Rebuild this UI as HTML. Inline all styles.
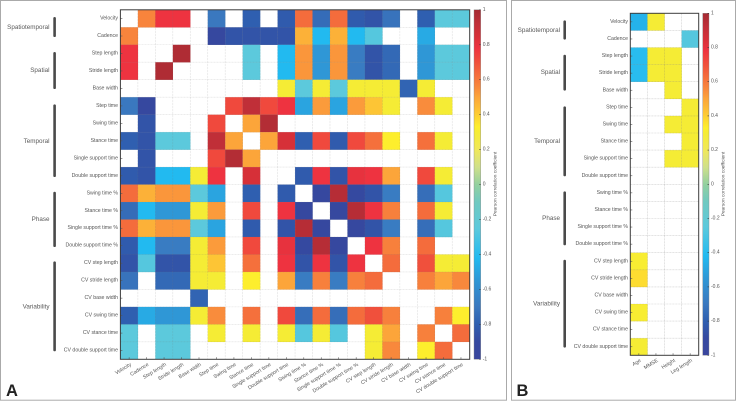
<!DOCTYPE html>
<html lang="en">
<head>
<meta charset="utf-8">
<title>Pearson correlation heatmaps</title>
<style>
html,body{margin:0;padding:0;background:#fff;}
svg{display:block;font-family:"Liberation Sans",sans-serif;}
.group-label{font-size:6.3px;fill:#5a5a5a;text-anchor:end;dominant-baseline:central;}
.panel-letter{font-size:16.5px;font-weight:bold;fill:#222;}
</style>
</head>
<body>
<svg id="figure" width="736" height="401" viewBox="0 0 736 401" xmlns="http://www.w3.org/2000/svg">
  <defs id="figure-defs"></defs>
  <rect x="0" y="0" width="736" height="401" fill="#fff"/>
  <rect x="0.5" y="0.5" width="506" height="399.7" fill="none" stroke="#aaa" stroke-width="1"/>
  <rect x="511.5" y="0.5" width="224" height="399.7" fill="none" stroke="#aaa" stroke-width="1"/>

  <g>
    <text class="group-label" x="49.5" y="27.3">Spatiotemporal</text>
    <text class="group-label" x="49.5" y="70.3">Spatial</text>
    <text class="group-label" x="49.5" y="141.3">Temporal</text>
    <text class="group-label" x="49.5" y="219.3">Phase</text>
    <text class="group-label" x="49.5" y="307">Variability</text>
    <line x1="54.6" x2="54.6" y1="18.3" y2="35.7" stroke="#4a4a4a" stroke-width="2.6" stroke-linecap="round"/>
    <line x1="54.6" x2="54.6" y1="53.3" y2="87.7" stroke="#4a4a4a" stroke-width="2.6" stroke-linecap="round"/>
    <line x1="54.6" x2="54.6" y1="105.7" y2="175.7" stroke="#4a4a4a" stroke-width="2.6" stroke-linecap="round"/>
    <line x1="54.6" x2="54.6" y1="193" y2="245.7" stroke="#4a4a4a" stroke-width="2.6" stroke-linecap="round"/>
    <line x1="54.6" x2="54.6" y1="262.7" y2="350" stroke="#4a4a4a" stroke-width="2.6" stroke-linecap="round"/>
  </g>
  <g>
    <text class="group-label" x="560" y="30.3">Spatiotemporal</text>
    <text class="group-label" x="560" y="72.7">Spatial</text>
    <text class="group-label" x="560" y="141.7">Temporal</text>
    <text class="group-label" x="560" y="218.3">Phase</text>
    <text class="group-label" x="560" y="304">Variability</text>
    <line x1="564.7" x2="564.7" y1="21.7" y2="38.3" stroke="#4a4a4a" stroke-width="2.6" stroke-linecap="round"/>
    <line x1="564.7" x2="564.7" y1="56" y2="89.3" stroke="#4a4a4a" stroke-width="2.6" stroke-linecap="round"/>
    <line x1="564.7" x2="564.7" y1="107.7" y2="175" stroke="#4a4a4a" stroke-width="2.6" stroke-linecap="round"/>
    <line x1="564.7" x2="564.7" y1="192.7" y2="244" stroke="#4a4a4a" stroke-width="2.6" stroke-linecap="round"/>
    <line x1="564.7" x2="564.7" y1="261" y2="346.3" stroke="#4a4a4a" stroke-width="2.6" stroke-linecap="round"/>
  </g>

  <text class="panel-letter" x="6" y="396">A</text>
  <text class="panel-letter" x="516.5" y="396">B</text>
</svg>

<script>
const n = null;
const rowLabels = ["Velocity","Cadence","Step length","Stride length","Base width","Step time","Swing time","Stance time","Single support time","Double support time","Swing time %","Stance time %","Single support time %","Double support time %","CV step length","CV stride length","CV base width","CV swing time","CV stance time","CV double support time"];
const columnLabelsA = rowLabels;
const columnLabelsB = ["Age","MMSE","Height","Leg length"];
const colorbarTicks = [1,0.8,0.6,0.4,0.2,0,-0.2,-0.4,-0.6,-0.8,-1];
const colorbarTitle = "Pearson correlation coefficient";

const correlationA = [
  [n,.57,.78,.78,n,-.7,n,-.8,n,-.82,.63,-.75,.63,-.82,-.85,-.72,n,-.8,-.25,-.25],
  [.57,n,n,n,n,-.92,-.85,-.85,-.85,-.85,.47,-.42,.47,-.42,-.27,n,n,-.48,n,n],
  [.78,n,n,.97,n,n,n,-.25,n,-.42,.53,-.55,.53,-.68,-.85,-.76,n,-.55,-.25,-.25],
  [.78,n,.97,n,n,n,n,-.25,n,-.42,.53,-.55,.53,-.68,-.85,-.76,n,-.55,-.25,-.25],
  [n,n,n,n,n,n,n,n,n,.3,-.25,.3,-.25,.3,.3,.3,-.78,.3,n,n],
  [-.7,-.92,n,n,n,n,.72,.92,.72,.78,-.5,.52,-.5,.52,.42,.3,n,.55,.3,n],
  [n,-.85,n,n,n,.72,n,.5,.96,n,n,n,n,n,n,n,n,n,n,n],
  [-.8,-.85,-.25,-.25,n,.92,.5,n,.5,.85,-.8,.72,-.82,.72,.62,.33,n,.62,.3,n],
  [n,-.85,n,n,n,.72,.96,.5,n,n,n,n,n,n,n,n,n,n,n,n],
  [-.82,-.85,-.42,-.42,.3,.78,n,.85,n,n,-.82,.78,-.85,.8,.78,.5,n,.72,.3,n],
  [.63,.47,.53,.53,-.25,-.5,n,-.8,n,-.82,n,-.92,.95,-.9,-.85,-.68,n,-.74,-.27,n],
  [-.75,-.42,-.55,-.55,.3,.52,n,.72,n,.78,-.92,n,-.92,.95,.78,.58,n,.63,.3,n],
  [.63,.47,.53,.53,-.25,-.5,n,-.82,n,-.85,.95,-.92,n,-.92,-.85,-.68,n,-.74,-.27,n],
  [-.82,-.42,-.68,-.68,.3,.52,n,.72,n,.8,-.9,.95,-.92,n,.78,.58,n,.63,n,n],
  [-.85,-.27,-.85,-.85,.3,.42,n,.62,n,.78,-.85,.78,-.85,.78,n,.63,n,.7,.3,.3],
  [-.72,n,-.76,-.76,.3,.3,n,.33,n,.5,-.68,.58,-.68,.58,.63,n,n,.58,.5,.56],
  [n,n,n,n,-.78,n,n,n,n,n,n,n,n,n,n,n,n,n,n,n],
  [-.8,-.48,-.55,-.55,.3,.55,n,.62,n,.72,-.74,.63,-.74,.63,.7,.58,n,n,.58,.33],
  [-.25,n,-.25,-.25,n,.3,n,.3,n,.3,-.27,.3,-.27,n,.3,.5,n,.58,n,.63],
  [-.25,n,-.25,-.25,n,n,n,n,n,n,n,n,n,n,.3,.56,n,.33,.63,n]
];

const correlationB = [
  [-.45,.3,n,n],
  [n,n,n,-.27],
  [-.4,.3,.3,n],
  [-.4,.3,.3,n],
  [n,n,.3,n],
  [n,n,n,.3],
  [n,n,.3,.3],
  [n,n,n,.3],
  [n,n,.3,.3],
  [n,n,n,n],
  [n,n,n,n],
  [n,n,n,n],
  [n,n,n,n],
  [n,n,n,n],
  [.31,n,n,n],
  [.37,n,n,n],
  [n,n,n,n],
  [.31,n,n,n],
  [n,n,n,n],
  [.3,n,n,n]
];

const colormapValues = [-1,-.9,-.8,-.7,-.55,-.42,-.25,-.1,0,.1,.2,.3,.33,.42,.5,.55,.62,.7,.78,.85,.92,1];
const colormapColors = ["#3a469d","#3549a0","#2f5fb0","#3a78bf","#2f97d6","#22baf0","#5cc9dc","#70c9c0","#93d09f","#cfe08a","#f0e85a","#f5ec35","#fdee2d","#fdc535","#fca53a","#f98c3c","#f5703c","#f0503c","#ee3340","#d63038","#c02f38","#a52a32"];

const SVGNS = "http://www.w3.org/2000/svg";
const figure = document.getElementById("figure");
const defs = document.getElementById("figure-defs");

function make(tag, attrs, parent) {
  const el = document.createElementNS(SVGNS, tag);
  for (const k in attrs) el.setAttribute(k, attrs[k]);
  parent.appendChild(el);
  return el;
}
function hexToRgb(h) {
  return [parseInt(h.slice(1,3),16), parseInt(h.slice(3,5),16), parseInt(h.slice(5,7),16)];
}
function colorFor(v) {
  const c = Math.max(-1, Math.min(1, v));
  for (let i = 0; i < colormapValues.length - 1; i++) {
    const a = colormapValues[i], b = colormapValues[i + 1];
    if (c <= b) {
      const t = (c - a) / (b - a);
      const p = hexToRgb(colormapColors[i]), q = hexToRgb(colormapColors[i + 1]);
      return "rgb(" + p.map((x, j) => Math.round(x + (q[j] - x) * t)).join(",") + ")";
    }
  }
  return colormapColors[colormapColors.length - 1];
}

const gradient = make("linearGradient", {id:"colorbar-gradient", x1:0, y1:1, x2:0, y2:0}, defs);
colormapValues.forEach((v, i) => {
  make("stop", {offset:((v + 1) / 2), "stop-color":colormapColors[i]}, gradient);
});

function drawHeatmap(cfg) {
  const rows = rowLabels.length;
  const cols = cfg.columns.length;
  const cw = (cfg.right - cfg.left) / cols;
  const ch = (cfg.bottom - cfg.top) / rows;
  const xOf = c => cfg.left + c * cw;
  const yOf = r => cfg.top + r * ch;

  const plot = make("g", {}, figure);
  
  

  cfg.values.forEach((row, r) => {
    row.forEach((v, c) => {
      if (v === null) return;
      const cell = make("rect", {x:xOf(c), y:yOf(r), width:cw + 0.2, height:ch + 0.2, fill:colorFor(v)}, plot);
      
      
    });
  });

  const grid = make("g", {stroke:"#777", "stroke-opacity":cfg.gridOpacity, "stroke-width":0.6, "stroke-dasharray":"2.2 0.8"}, plot);
  
  
  for (let c = 1; c < cols; c++) make("line", {x1:xOf(c), x2:xOf(c), y1:cfg.top, y2:cfg.bottom}, grid);
  for (let r = 1; r < rows; r++) make("line", {x1:cfg.left, x2:cfg.right, y1:yOf(r), y2:yOf(r)}, grid);

  const yAxis = make("g", {}, plot);
  
  
  rowLabels.forEach((label, r) => {
    const yc = yOf(r + 0.5);
    make("line", {x1:cfg.left, x2:cfg.left + 2, y1:yc, y2:yc, stroke:"#555", "stroke-width":0.6}, yAxis);
    const t = make("text", {x:cfg.labelRight, y:yc, "font-size":5.2, fill:"#555", "text-anchor":"end", "dominant-baseline":"central"}, yAxis);
    t.textContent = label;
    
    
  });

  const xAxis = make("g", {}, plot);
  
  
  cfg.columns.forEach((label, c) => {
    const xc = xOf(c + 0.5);
    make("line", {x1:xc, x2:xc, y1:cfg.bottom, y2:cfg.bottom - 2, stroke:"#555", "stroke-width":0.6}, xAxis);
    const ax = xc + 2.5, ay = cfg.bottom + 6;
    const t = make("text", {x:ax, y:ay, "font-size":5.2, fill:"#555", "text-anchor":"end", transform:"rotate(-31.5 " + ax + " " + ay + ")"}, xAxis);
    t.textContent = label;
    
    
  });

  const frame = make("rect", {x:cfg.left, y:cfg.top, width:cfg.right - cfg.left, height:cfg.bottom - cfg.top, fill:"none", stroke:"#3c3c3c", "stroke-width":1}, plot);
  
  

  const cb = make("g", {}, figure);
  
  
  make("rect", {x:cfg.cbLeft, y:cfg.top, width:cfg.cbWidth, height:cfg.bottom - cfg.top, fill:"url(#colorbar-gradient)", stroke:"#8a8a8a", "stroke-width":0.4}, cb);
  const cbY = v => cfg.bottom - (v + 1) / 2 * (cfg.bottom - cfg.top);
  colorbarTicks.forEach(v => {
    const y = cbY(v);
    make("line", {x1:cfg.cbLeft + cfg.cbWidth - 1.5, x2:cfg.cbLeft + cfg.cbWidth, y1:y, y2:y, stroke:"#333", "stroke-width":0.6}, cb);
    const t = make("text", {x:cfg.cbLeft + cfg.cbWidth + 2, y:y, "font-size":5, fill:"#555", "dominant-baseline":"central"}, cb);
    t.textContent = String(v);
    
    
  });
  const ty = 184;
  const title = make("text", {x:cfg.cbTitleX, y:ty, "font-size":4.8, fill:"#555", "text-anchor":"middle", "dominant-baseline":"central", transform:"rotate(-90 " + cfg.cbTitleX + " " + ty + ")"}, cb);
  title.textContent = colorbarTitle;
  
  
}

drawHeatmap({name:"panel-a", values:correlationA, columns:columnLabelsA, left:120.4, right:469.7, top:9.8, bottom:359.3, labelRight:118, gridOpacity:0.22, cbLeft:474, cbWidth:6.7, cbTitleX:495.8});
drawHeatmap({name:"panel-b", values:correlationB, columns:columnLabelsB, left:630.3, right:698.7, top:13.3, bottom:355.3, labelRight:628, gridOpacity:0.32, cbLeft:702.7, cbWidth:6.3, cbTitleX:724});
</script>
</body>
</html>
